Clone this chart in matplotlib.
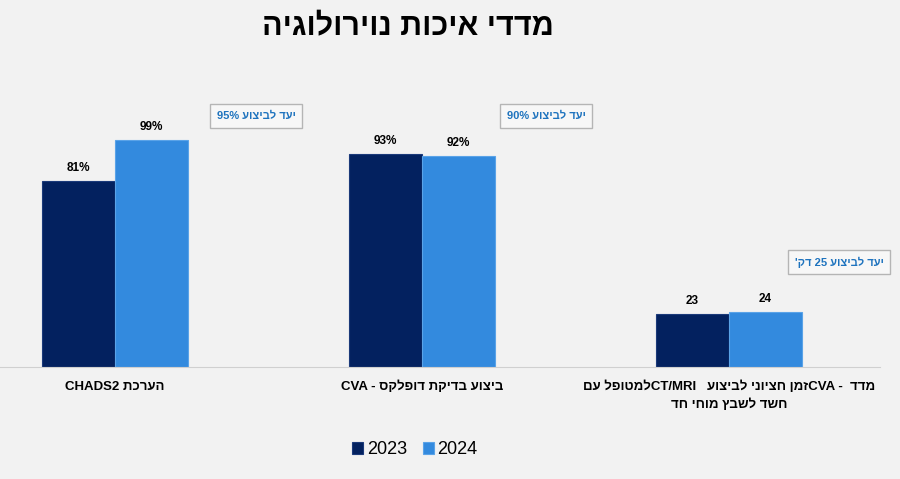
import re
import matplotlib
matplotlib.use("Agg")
import matplotlib.pyplot as plt
import numpy as np

plt.rcParams['font.family'] = ['Liberation Sans', 'DejaVu Sans']


def heb(s):
    # matplotlib draws left to right, so put Hebrew into visual order
    r = s[::-1]
    return re.sub(r"[A-Za-z0-9%/]+", lambda m: m.group(0)[::-1], r)


title = "מדדי איכות נוירולוגיה"
categories = [
    "הערכת CHADS2",
    "ביצוע בדיקת דופלקס - CVA",
    "מדד  - CVAזמן חציוני לביצוע   CT/MRIלמטופל עם\nחשד לשבץ מוחי חד",
]
years = ["2023", "2024"]
values_2023 = [81, 93, 23]
values_2024 = [99, 92, 24]
labels_2023 = ["81%", "93%", "23"]
labels_2024 = ["99%", "92%", "24"]
targets = ["יעד לביצוע 95%", "יעד לביצוע 90%", "יעד לביצוע 25 דק'"]

bg = "#f2f2f2"
c2023 = "#03215f"
c2024 = "#338ade"

fig = plt.figure(figsize=(9, 4.79), dpi=100, facecolor=bg)
ax = fig.add_axes([0, (479 - 367) / 479, 880 / 900, 317 / 479])
ax.set_facecolor(bg)

x = np.arange(len(categories))
w = 0.238
b1 = ax.bar(x - w / 2, values_2023, w, color=c2023, edgecolor="#1b3a7a", linewidth=0.8, label=years[0])
b2 = ax.bar(x + w / 2, values_2024, w, color=c2024, edgecolor="#5aa3e8", linewidth=0.8, label=years[1])

for bars, labs in ((b1, labels_2023), (b2, labels_2024)):
    for bar, lab in zip(bars, labs):
        ax.annotate(lab, (bar.get_x() + bar.get_width() / 2, bar.get_height()),
                    xytext=(0, 5), textcoords="offset points", ha="center", va="bottom",
                    fontsize=8.5, fontweight="bold")

ax.set_xlim(-115 / 307, 765 / 307)
ax.set_ylim(0, 317 / 2.295)
for s in ["top", "right", "left"]:
    ax.spines[s].set_visible(False)
ax.spines["bottom"].set_color("#d0d0d0")
ax.set_yticks([])
ax.set_xticks(x)
ax.set_xticklabels(["\n".join(heb(l) for l in c.split("\n")) for c in categories],
                   fontsize=9.5, fontweight="bold", linespacing=1.5)
ax.tick_params(axis="x", length=0, pad=10)

# target boxes
box_pos = [(256, 116), (546, 116), (839, 262)]
for t, (px, py) in zip(targets, box_pos):
    fig.text(px / 900, 1 - py / 479, heb(t), ha="center", va="center", fontsize=8,
             fontweight="bold", color="#1e73be",
             bbox=dict(boxstyle="square,pad=0.6", facecolor="#f7f7f7", edgecolor="#b5b5b5", linewidth=1))

fig.text(408 / 900, 1 - 27 / 479, heb(title), ha="center", va="center", fontsize=22, fontweight="bold")

fig.legend(handles=[b1, b2], labels=years, loc="center", bbox_to_anchor=(415 / 900, 1 - 450 / 479),
           ncol=2, frameon=False, fontsize=13, handlelength=0.6, handleheight=0.6,
           handletextpad=0.2, columnspacing=0.9)

fig.savefig("out.png", dpi=100, facecolor=bg)
